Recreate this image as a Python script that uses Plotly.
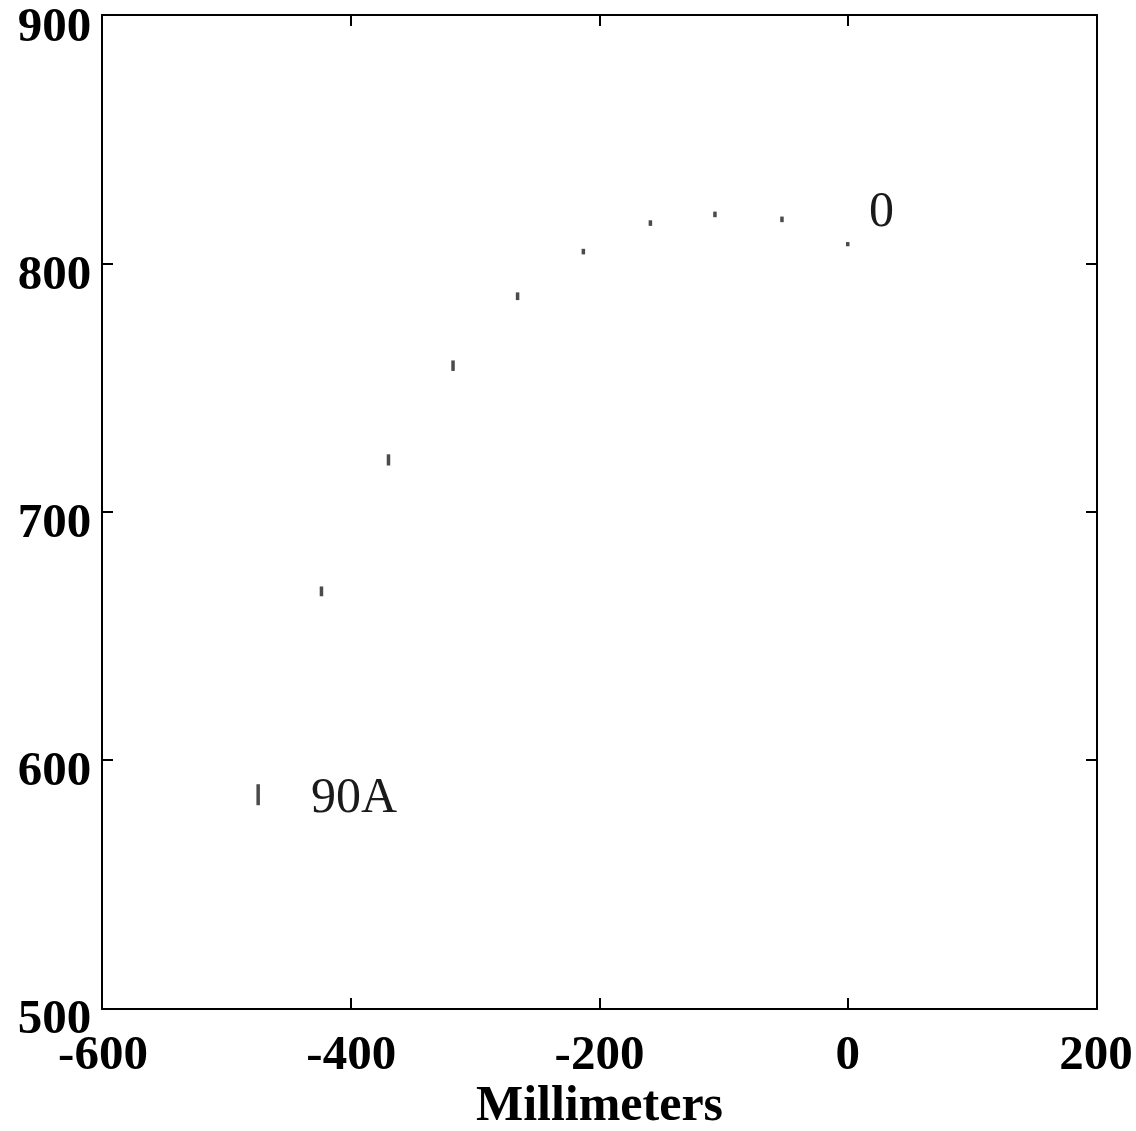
import plotly.graph_objects as go

# Data
x_mm = [0, -53, -107, -159, -213, -266, -318, -370, -424, -475]
y_mm = [808, 818, 820, 816.5, 805, 787, 759, 721, 668, 586]

label_texts = ["0", "90A"]
label_x = [27, -398]
label_y = [822, 586]

x_ticks = [-600, -400, -200, 0, 200]
y_ticks = [500, 600, 700, 800, 900]

# style: marker stroke lengths (px) per point
marker_len = [6, 8, 8, 8, 8, 11, 15, 16, 14, 30]

fig = go.Figure()
fig.add_trace(go.Scatter(
    x=x_mm, y=y_mm, mode="markers",
    marker=dict(symbol="line-ns", size=[m / 2 for m in marker_len],
                line=dict(color="black", width=3.5), color="black"),
    showlegend=False, hoverinfo="skip",
))

for t, lx, ly in zip(label_texts, label_x, label_y):
    fig.add_annotation(x=lx, y=ly, text=t, showarrow=False,
                       font=dict(family="Liberation Serif", size=50, color="#1a1a1a"),
                       xanchor="center", yanchor="middle")

axis_common = dict(
    showgrid=False, zeroline=False, showline=True, linecolor="black",
    linewidth=2, mirror="ticks", ticks="inside", ticklen=10, tickwidth=2,
    tickcolor="black", ticklabeloverflow="allow", automargin=False,
    tickfont=dict(family="Liberation Serif", size=49, color="black", weight="bold"),
)

fig.update_xaxes(range=[-600, 200], tickvals=x_ticks,
                 ticktext=[str(v) for v in x_ticks],
                 title=dict(text="<b>Millimeters</b>", standoff=0,
                            font=dict(family="Liberation Serif", size=50, color="black")),
                 ticklabelstandoff=0,
                 **axis_common)
fig.update_yaxes(range=[500, 900], tickvals=y_ticks,
                 ticktext=[str(v) for v in y_ticks],
                 ticklabelstandoff=0, ticklabelshift=8,
                 **axis_common)

fig.update_layout(
    width=1136, height=1131,
    margin=dict(l=103, r=40, t=16, b=123),
    paper_bgcolor="white", plot_bgcolor="white",
)

fig.write_html("out.html")
